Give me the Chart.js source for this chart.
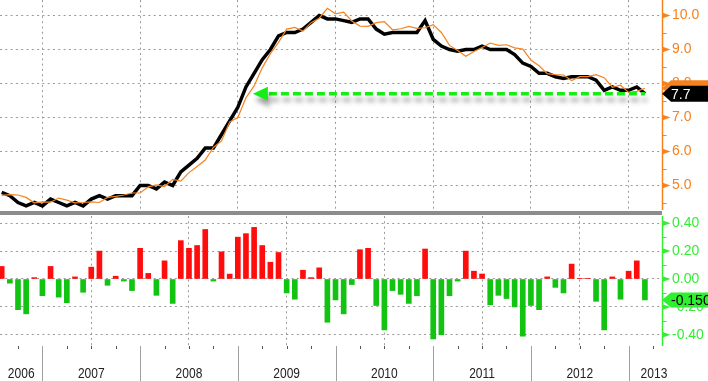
<!DOCTYPE html>
<html><head><meta charset="utf-8">
<script src="https://cdn.jsdelivr.net/npm/chart.js@4.4.1/dist/chart.umd.min.js"></script>
<style>
html,body{margin:0;padding:0;background:#fff;overflow:hidden}
#wrap{position:relative;width:708px;height:381px;background:#fff}
#top{position:absolute;left:0;top:0}
#bot{position:absolute;left:0;top:216px}
#sep{position:absolute;left:0;top:211px;width:662px;height:4px;background:#8c8c8c}
</style></head><body>
<div id="wrap"><canvas id="top" width="708" height="210"></canvas><div id="sep"></div><canvas id="bot" width="708" height="165"></canvas></div>
<script>
// ---- data (monthly, Jul 2006 .. Feb 2013) ----
const years = ['2006','2007','2008','2009','2010','2011','2012','2013'];
const startYear = 2006, startMonth = 7;
const unemployment = [4.8,4.7,4.5,4.4,4.5,4.4,
  4.6,4.5,4.4,4.5,4.4,4.6,4.7,4.6,4.7,4.7,4.7,5.0,
  5.0,4.9,5.1,5.0,5.4,5.6,5.8,6.1,6.1,6.5,6.9,7.3,
  7.9,8.3,8.7,9.0,9.4,9.5,9.5,9.6,9.8,10.0,9.9,9.9,
  9.85,9.8,9.9,9.9,9.6,9.45,9.5,9.5,9.5,9.5,9.85,9.3,
  9.1,9.0,8.95,9.0,9.0,9.1,9.0,9.0,9.0,8.85,8.6,8.5,
  8.3,8.3,8.2,8.15,8.2,8.2,8.2,8.1,7.8,7.9,7.8,7.8,
  7.9,7.7];
const estimate = [4.71,4.73,4.72,4.65,4.49,4.52,
  4.51,4.63,4.57,4.49,4.50,4.52,4.50,4.65,4.68,4.72,4.78,4.78,
  4.96,5.02,4.97,5.18,5.13,5.38,5.56,5.75,6.12,6.31,6.87,7.0,
  7.58,7.93,8.46,8.88,9.21,9.6,9.65,9.54,9.79,9.92,10.21,10.05,
  10.1,9.84,9.69,9.68,9.79,9.82,9.58,9.61,9.68,9.62,9.64,9.73,
  9.5,9.12,8.97,8.8,8.94,9.06,9.19,9.12,9.14,9.05,9.01,8.69,
  8.52,8.29,8.26,8.25,8.09,8.2,8.2,8.26,8.17,7.89,7.95,7.74,
  7.77,7.86];
const surprise = [0.09,-0.03,-0.22,-0.25,0.01,-0.12,
  0.09,-0.13,-0.17,0.015,-0.095,0.085,0.20,-0.045,0.02,-0.015,-0.083,0.22,
  0.04,-0.117,0.13,-0.175,0.275,0.22,0.24,0.355,-0.015,0.195,0.035,0.30,
  0.325,0.37,0.24,0.12,0.19,-0.10,-0.145,0.063,0.01,0.08,-0.31,-0.15,
  -0.25,-0.04,0.21,0.22,-0.19,-0.365,-0.083,-0.11,-0.175,-0.12,0.215,-0.43,
  -0.40,-0.12,-0.015,0.20,0.056,0.036,-0.185,-0.117,-0.14,-0.20,-0.41,-0.19,
  -0.22,0.015,-0.06,-0.10,0.107,0.005,0.005,-0.16,-0.365,0.015,-0.145,0.056,
  0.13,-0.15];
const topTicks = [5,6,7,8,9,10];
const topMinor = [4.5,5.5,6.5,7.5,8.5,9.5];
const bottomTicks = [-0.4,-0.2,0,0.2,0.4];
const bottomMinor = [-0.3,-0.1,0.1,0.3];
const topTagText = '7.7';
const bottomTagText = '-0.150';
const arrowFromIndex = 30.85;

// ---- derived ----
const months = unemployment.map((_, i) => {
  const m = startMonth - 1 + i;
  return (startYear + Math.floor(m / 12)) + '-' + String(m % 12 + 1).padStart(2, '0');
});
const decIdx = Y => (Y - startYear) * 12 + (12 - startMonth);
const XMIN = -0.21, XMAX = 81.1;
const boundaries = years.slice(0, -1).map(y => decIdx(+y));
const last = unemployment.length - 1;

const ORANGE = '#f5821f', GREENLBL = '#33ee33', GRID = '#9a9a9a';
const RED = '#ff0d0d', GREENBAR = '#12c312', ARROW = '#14ee14';
const FONT = '"Liberation Sans", Arial, sans-serif';

function drawRightAxis(chart, color, majors, minors) {
  const {ctx, chartArea: ca, scales: {y}} = chart;
  const ax = Math.round(ca.right) + 0.5;
  ctx.save();
  ctx.strokeStyle = color; ctx.fillStyle = color; ctx.lineWidth = 1.5;
  ctx.beginPath(); ctx.moveTo(ax, ca.top); ctx.lineTo(ax, ca.bottom); ctx.stroke();
  ctx.lineWidth = 1;
  minors.forEach(v => { const py = Math.round(y.getPixelForValue(v)) + 0.5;
    ctx.beginPath(); ctx.moveTo(ax, py); ctx.lineTo(ax + 4, py); ctx.stroke(); });
  majors.forEach(v => { const py = y.getPixelForValue(v);
    ctx.beginPath(); ctx.moveTo(ax - 0.5, py - 3); ctx.lineTo(ax + 8, py); ctx.lineTo(ax - 0.5, py + 3); ctx.closePath(); ctx.fill(); });
  ctx.restore();
}
function drawTag(ctx, x, yc, h, fill, text, textColor) {
  const tip = 9, w = 70;
  ctx.beginPath(); ctx.moveTo(x, yc); ctx.lineTo(x + tip, yc - h / 2); ctx.lineTo(x + w, yc - h / 2);
  ctx.lineTo(x + w, yc + h / 2); ctx.lineTo(x + tip, yc + h / 2); ctx.closePath();
  ctx.fillStyle = fill; ctx.fill();
  if (text) { ctx.fillStyle = textColor; ctx.font = '14px ' + FONT; ctx.textBaseline = 'middle'; ctx.textAlign = 'left';
    ctx.fillText(text, x + 9, yc + 1); }
}

const topPlugin = {
  id: 'topDecor',
  afterDatasetsDraw(chart) {
    const {ctx, scales: {x, y}} = chart;
    const y0 = y.getPixelForValue(unemployment[last]);
    const xTip = x.getPixelForValue(arrowFromIndex), xEnd = x.getPixelForValue(last);
    ctx.save();
    ctx.shadowColor = 'rgba(0,0,0,0.38)'; ctx.shadowBlur = 5; ctx.shadowOffsetX = 2; ctx.shadowOffsetY = 6;
    ctx.strokeStyle = ARROW; ctx.lineWidth = 3.5; ctx.setLineDash([8, 4]);
    ctx.beginPath(); ctx.moveTo(xTip + 16, y0); ctx.lineTo(xEnd, y0); ctx.stroke();
    ctx.setLineDash([]);
    ctx.fillStyle = ARROW; ctx.beginPath(); ctx.moveTo(xTip, y0); ctx.lineTo(xTip + 15, y0 - 7); ctx.lineTo(xTip + 15, y0 + 7); ctx.closePath(); ctx.fill();
    ctx.restore();
  },
  afterDraw(chart) {
    const {ctx, chartArea: ca, scales: {y}} = chart;
    drawRightAxis(chart, ORANGE, topTicks, topMinor);
    ctx.save();
    drawTag(ctx, ca.right, y.getPixelForValue(estimate[last]), 16, ORANGE, '', '');
    drawTag(ctx, ca.right, y.getPixelForValue(unemployment[last]), 16, '#000', topTagText, '#fff');
    ctx.restore();
  }
};
const botPlugin = {
  id: 'botDecor',
  afterDraw(chart) {
    const {ctx, chartArea: ca, scales: {x, y}} = chart;
    drawRightAxis(chart, GREENLBL, bottomTicks, bottomMinor);
    ctx.save();
    drawTag(ctx, ca.right, y.getPixelForValue(surprise[last]), 15, '#2ef02e', bottomTagText, '#000');
    const H = chart.height;
    ctx.strokeStyle = '#a0a0a0'; ctx.lineWidth = 1;
    boundaries.forEach(b => { const px = Math.round(x.getPixelForValue(b)) + 0.5;
      ctx.beginPath(); ctx.moveTo(px, ca.bottom); ctx.lineTo(px, H); ctx.stroke(); });
    ctx.strokeStyle = '#555';
    for (let i = Math.ceil(XMIN); i <= Math.floor(XMAX); i++) {
      const mo = (startMonth - 1 + i) % 12 + 1;
      if (mo % 3 === 0 && mo !== 12) { const px = Math.round(x.getPixelForValue(i)) + 0.5;
        ctx.beginPath(); ctx.moveTo(px, ca.bottom); ctx.lineTo(px, ca.bottom + 3); ctx.stroke(); }
    }
    ctx.fillStyle = '#222'; ctx.font = '15px ' + FONT; ctx.textBaseline = 'alphabetic';
    const sx = 0.8, baseY = H - 3;
    years.forEach(lbl => {
      const Y = +lbl; const l = decIdx(Y - 1), r = decIdx(Y);
      const lp = l < XMIN ? ca.left : x.getPixelForValue(l);
      const w = ctx.measureText(lbl).width * sx;
      let cx;
      if (r <= XMAX) cx = (lp + x.getPixelForValue(r)) / 2; else cx = lp + 12 + w / 2;
      ctx.save(); ctx.translate(cx, baseY); ctx.scale(sx, 1); ctx.textAlign = 'center'; ctx.fillText(lbl, 0, 0); ctx.restore();
    });
    ctx.restore();
  }
};

const noPad = s => { s.paddingTop = 0; s.paddingBottom = 0; s.paddingLeft = 0; s.paddingRight = 0; };
const xScale = (h) => ({
  type: 'linear', min: XMIN, max: XMAX, offset: false,
  afterBuildTicks: s => { s.ticks = boundaries.map(v => ({value: v})); },
  afterFit: s => { s.height = h; noPad(s); },
  ticks: {display: false},
  grid: {color: GRID, lineWidth: 1, drawTicks: false},
  border: {display: false, dash: [2, 3.3]}
});
const yScale = (min, max, ticks, color, dec) => ({
  type: 'linear', position: 'right', min, max,
  afterBuildTicks: s => { s.ticks = ticks.map(v => ({value: v})); },
  afterFit: s => { s.width = 46; noPad(s); },
  ticks: {color, padding: 10, font: {family: FONT, size: 14}, callback: v => v.toFixed(dec)},
  grid: {color: GRID, lineWidth: 1, drawTicks: false},
  border: {display: false, dash: [2, 3.3]}
});
const common = {responsive: false, animation: false, devicePixelRatio: 1, layout: {padding: 0},
  plugins: {legend: {display: false}, tooltip: {enabled: false}}};

new Chart(document.getElementById('top'), {
  type: 'line',
  data: {labels: months, datasets: [
    {label: 'Estimate', data: estimate.map((v, i) => ({x: i, y: v})), borderColor: ORANGE, borderWidth: 1.2, pointRadius: 0, tension: 0, order: 0},
    {label: 'Unemployment rate', data: unemployment.map((v, i) => ({x: i, y: v})), borderColor: '#000', borderWidth: 3.5, pointRadius: 0, tension: 0, order: 1, borderJoinStyle: 'miter'}
  ]},
  options: Object.assign({}, common, {scales: {x: xScale(0), y: yScale(10.456 - 210 / 34, 10.456, topTicks, ORANGE, 1)}}),
  plugins: [topPlugin]
});

new Chart(document.getElementById('bot'), {
  type: 'bar',
  data: {labels: months, datasets: [
    {label: 'Surprise', data: surprise.map((v, i) => ({x: i, y: v})),
     backgroundColor: surprise.map(v => v >= 0 ? RED : GREENBAR), borderWidth: 0, barThickness: 5, grouped: false}
  ]},
  options: Object.assign({}, common, {scales: {x: xScale(35), y: yScale(-0.4803, 0.4516, bottomTicks, GREENLBL, 2)}}),
  plugins: [botPlugin]
});
</script>
</body></html>
